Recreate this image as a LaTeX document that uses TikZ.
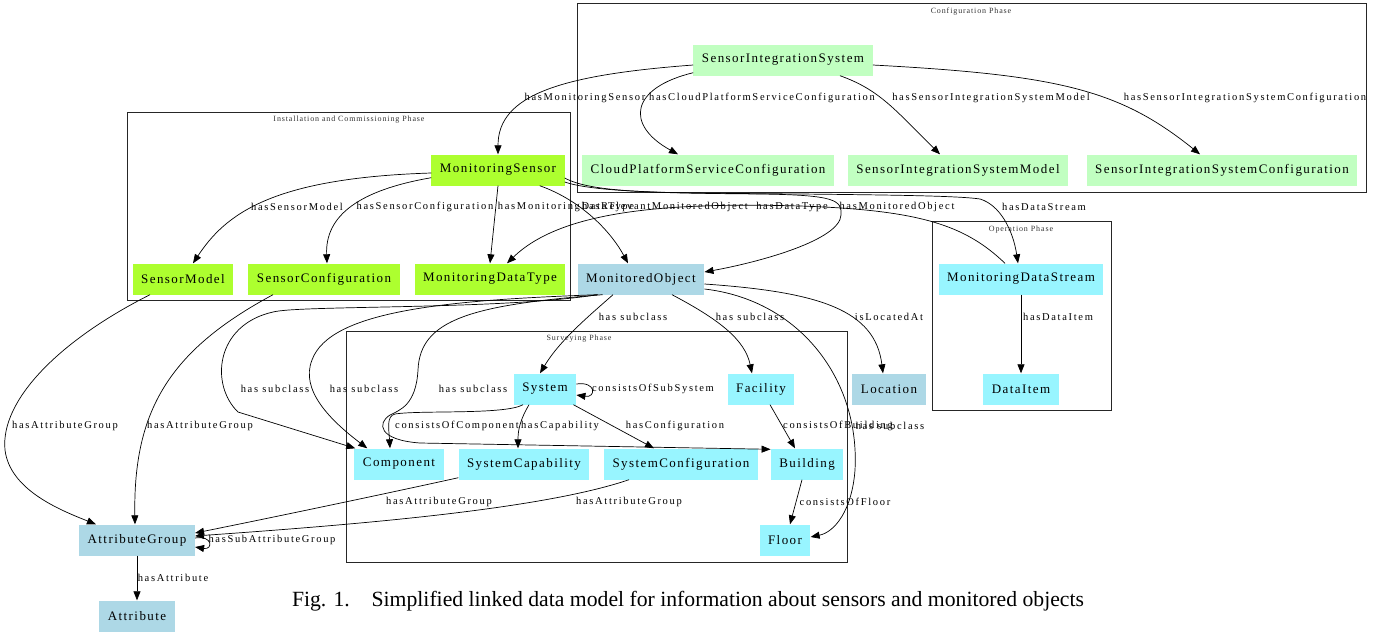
\documentclass[tikz,border=0pt]{standalone}
\usepackage{fontspec}
\setmainfont{Liberation Serif}
\newfontfamily\nodefont[LetterSpace=11]{Liberation Serif}
\newfontfamily\edgefont[LetterSpace=16]{Liberation Serif}
\newfontfamily\clusterfont[LetterSpace=11]{Liberation Serif}
\usetikzlibrary{arrows.meta,calc}
\definecolor{seagreenA}{HTML}{C1FFC1}
\definecolor{yellowgreen}{HTML}{ADFF2F}
\definecolor{lightblueA}{HTML}{ADD8E6}
\definecolor{cadetA}{HTML}{98F5FF}
\tikzset{
  box/.style={rectangle, inner xsep=8.5pt, inner ysep=0pt, minimum height=31pt, font=\nodefont\fontsize{13}{15}\selectfont},
  conf/.style={box, fill=seagreenA},
  inst/.style={box, fill=yellowgreen},
  obj/.style={box, fill=lightblueA},
  oper/.style={box, fill=cadetA},
  lbl/.style={inner sep=0pt, font=\edgefont\fontsize{10.5}{12}\selectfont},
  clbl/.style={inner sep=0pt, font=\clusterfont\fontsize{8}{9}\selectfont, text=black!80},
  phase/.style={draw=black!85, line width=0.8pt},
  rel/.style={->, line width=0.7pt},
  >={Triangle[length=9pt,width=7pt]}
}
\begin{document}
\begin{tikzpicture}[x=1pt, y=-1pt]
  \useasboundingbox (0,0) rectangle (1388,633);

  % phases
  \draw[phase] (577,3) rectangle (1366,192);
  \node[clbl] (cfgtitle) at (971,12) {Configuration Phase};
  \draw[phase] (127,112) rectangle (570,300);
  \node[clbl] (insttitle) at (349,120) {Installation and Commissioning Phase};
  \draw[phase] (932,221) rectangle (1111,410);
  \node[clbl] (optitle) at (1021,230) {Operation Phase};
  \draw[phase] (346,331) rectangle (847,562);
  \node[clbl] (survtitle) at (579,339) {Surveying Phase};

  % classes
  \node[conf] (SIS) at (783,60) {SensorIntegrationSystem};
  \node[conf] (CPSC) at (708,170) {CloudPlatformServiceConfiguration};
  \node[conf] (SISM) at (958,170) {SensorIntegrationSystemModel};
  \node[conf] (SISC) at (1222,170) {SensorIntegrationSystemConfiguration};
  \node[inst] (MS) at (498,170) {MonitoringSensor};
  \node[inst] (SM) at (183,279) {SensorModel};
  \node[inst] (SC) at (324,279) {SensorConfiguration};
  \node[inst] (MDT) at (490,279) {MonitoringDataType};
  \node[obj] (MO) at (641,279) {MonitoredObject};
  \node[oper] (MDS) at (1021,279) {MonitoringDataStream};
  \node[oper] (DI) at (1021,389) {DataItem};
  \node[obj] (LOC) at (889,389) {Location};
  \node[oper] (SYS) at (545,389) {System};
  \node[oper] (FAC) at (761,389) {Facility};
  \node[oper] (COMP) at (399,464) {Component};
  \node[oper] (SCAP) at (524,464) {SystemCapability};
  \node[oper] (SCONF) at (681,464) {SystemConfiguration};
  \node[oper] (BLD) at (807,464) {Building};
  \node[oper] (FLR) at (785,540) {Floor};
  \node[obj] (AG) at (137,540) {AttributeGroup};
  \node[obj] (ATT) at (137,616) {Attribute};

  % relations
  \draw[rel] ($(SIS.west)+(0,5)$) .. controls (560,75) and (498,95) .. (MS.north);
  \draw[rel] ($(SIS.south west)+(0,-3)$) .. controls (630,88) and (625,125) .. ($(CPSC.north)+(-30,0)$);
  \draw[rel] ($(SIS.south)+(57,0)$) .. controls (880,90) and (895,110) .. ($(SISM.north)+(-18,0)$);
  \draw[rel] ($(SIS.east)+(0,5)$) .. controls (1060,75) and (1120,90) .. ($(SISC.north)+(-22,0)$);
  \draw[rel] ($(MS.west)+(0,3)$) .. controls (270,178) and (225,215) .. ($(SM.north)+(10,0)$);
  \draw[rel] ($(MS.south west)+(0,-8)$) .. controls (360,190) and (325,215) .. ($(SC.north)+(3,0)$);
  \draw[rel] (MS.south) -- (MDT.north);
  \draw[rel] ($(MS.south east)+(-25,0)$) .. controls (580,200) and (610,230) .. ($(MO.north)+(-13,0)$);
  \draw[rel] ($(MS.east)+(0,8)$) .. controls (590,192) and (650,193) .. (760,194)
    .. controls (835,195) and (842,200) .. (841,215)
    .. controls (840,240) and (760,262) .. ($(MO.east)+(0,-7)$);
  \draw[rel] ($(MS.east)+(0,12)$) .. controls (600,194) and (700,193) .. (800,194)
    .. controls (900,195) and (960,196) .. (980,199)
    .. controls (1000,205) and (1013,230) .. ($(MDS.north)+(-3,0)$);
  \draw[rel] ($(MDS.north)+(-16,0)$) .. controls (965,225) and (920,210) .. (800,206)
    .. controls (660,202) and (560,212) .. ($(MDT.north)+(17,0)$);
  \draw[rel] (MDS.south) -- (DI.north);
  \draw[rel] ($(MO.south)+(-28,0)$) .. controls (590,315) and (560,340) .. ($(SYS.north)+(-5,0)$);
  \draw[rel] ($(MO.south)+(31,0)$) .. controls (720,320) and (745,340) .. ($(FAC.north)+(-9,0)$);
  \draw[rel] ($(MO.east)+(0,5)$) .. controls (820,292) and (875,310) .. ($(LOC.north)+(-6,0)$);
  \draw[rel] ($(MO.east)+(0,10)$) .. controls (800,300) and (860,380) .. (855,470)
    .. controls (852,510) and (835,532) .. ($(FLR.east)+(0,-3)$);
  \draw[rel] ($(MO.south west)+(20,0)$) .. controls (500,310) and (300,305) .. (273,312)
    .. controls (215,325) and (210,385) .. (238,412) -- ($(COMP.north west)+(1,0)$);
  \draw[rel] ($(MO.south west)+(20,0)$) .. controls (450,300) and (330,310) .. (312,360)
    .. controls (300,390) and (330,420) .. ($(COMP.north west)+(13,0)$);
  \draw[rel] ($(MO.south west)+(25,0)$) .. controls (470,305) and (420,320) .. (418,370)
    .. controls (416,405) and (400,410) .. (390,415)
    .. controls (377,423) and (378,440) .. (420,443) -- ($(BLD.north west)+(0,1)$);
  \draw[rel] ($(SYS.east)+(0,-5)$) .. controls +(20,-3) and +(20,3) .. ($(SYS.east)+(0,6)$);
  \draw[rel] ($(SYS.south)+(-22,0)$) .. controls (505,415) and (420,410) .. (395,414)
    .. controls (386,416) and (389,430) .. ($(COMP.north)+(-9,0)$);
  \draw[rel] ($(SYS.south)+(-16,0)$) .. controls (520,420) and (518,430) .. ($(SCAP.north)+(-6,0)$);
  \draw[rel] ($(SYS.south east)+(-3,0)$) -- ($(SCONF.north)+(-27,0)$);
  \draw[rel] ($(FAC.south)+(9,0)$) -- ($(BLD.north)+(-12,0)$);
  \draw[rel] ($(BLD.south)+(-5,0)$) -- ($(FLR.north)+(5,0)$);
  \draw[rel] ($(SCAP.south west)+(0,-2)$) .. controls (380,495) and (260,520) .. ($(AG.east)+(0,-7)$);
  \draw[rel] ($(SCONF.south)+(-52,0)$) .. controls (540,510) and (350,525) .. ($(AG.east)+(0,-4)$);
  \draw[rel] ($(AG.east)+(0,-2)$) .. controls +(18,-3) and +(18,3) .. ($(AG.east)+(0,7)$);
  \draw[rel] (AG.south) -- (ATT.north);
  \draw[rel] ($(SM.south)+(-33,0)$) .. controls (60,340) and (0,400) .. (5,450)
    .. controls (10,490) and (60,510) .. ($(AG.north west)+(17,0)$);
  \draw[rel] ($(SC.south)+(-51,0)$) .. controls (170,350) and (133,410) .. ($(AG.north)+(-2,0)$);

  % relation names
  \node[lbl] (l1) at (585,98) {hasMonitoringSensor};
  \node[lbl] (l2) at (762,98) {hasCloudPlatformServiceConfiguration};
  \node[lbl] (l3) at (991,98) {hasSensorIntegrationSystemModel};
  \node[lbl] (l4) at (1245,98) {hasSensorIntegrationSystemConfiguration};
  \node[lbl] (l5) at (297,207) {hasSensorModel};
  \node[lbl] (l6) at (425,207) {hasSensorConfiguration};
  \node[lbl] (l7) at (566,207) {hasMonitoringDataType};
  \node[lbl] (l8) at (665,207) {hasRelevantMonitoredObject};
  \node[lbl] (l9) at (792,207) {hasDataType};
  \node[lbl] (l10) at (897,207) {hasMonitoredObject};
  \node[lbl] (l11) at (1044,207) {hasDataStream};
  \node[lbl] (l12) at (633,317) {has subclass};
  \node[lbl] (l13) at (750,317) {has subclass};
  \node[lbl] (l14) at (889,317) {isLocatedAt};
  \node[lbl] (l15) at (1058,317) {hasDataItem};
  \node[lbl] (l16) at (275,389) {has subclass};
  \node[lbl] (l17) at (364,389) {has subclass};
  \node[lbl] (l18) at (473,389) {has subclass};
  \node[lbl] (l19) at (653,389) {consistsOfSubSystem};
  \node[lbl] (l20) at (65,426) {hasAttributeGroup};
  \node[lbl] (l21) at (200,426) {hasAttributeGroup};
  \node[lbl] (l22) at (457,426) {consistsOfComponent};
  \node[lbl] (l23) at (560,426) {hasCapability};
  \node[lbl] (l24) at (675,426) {hasConfiguration};
  \node[lbl] (l25) at (838,426) {consistsOfBuilding};
  \node[lbl] (l26) at (890,426) {has subclass};
  \node[lbl] (l27) at (439,502) {hasAttributeGroup};
  \node[lbl] (l28) at (629,502) {hasAttributeGroup};
  \node[lbl] (l29) at (845,502) {consistsOfFloor};
  \node[lbl] (l30) at (272,540) {hasSubAttributeGroup};
  \node[lbl] (l31) at (173,578) {hasAttribute};

  \node[font=\fontsize{21.7}{25}\selectfont, inner sep=0pt] (caption) at (688,601)
    {Fig. 1.\hspace{1em}Simplified linked data model for information about sensors and monitored objects};
\end{tikzpicture}
\end{document}
